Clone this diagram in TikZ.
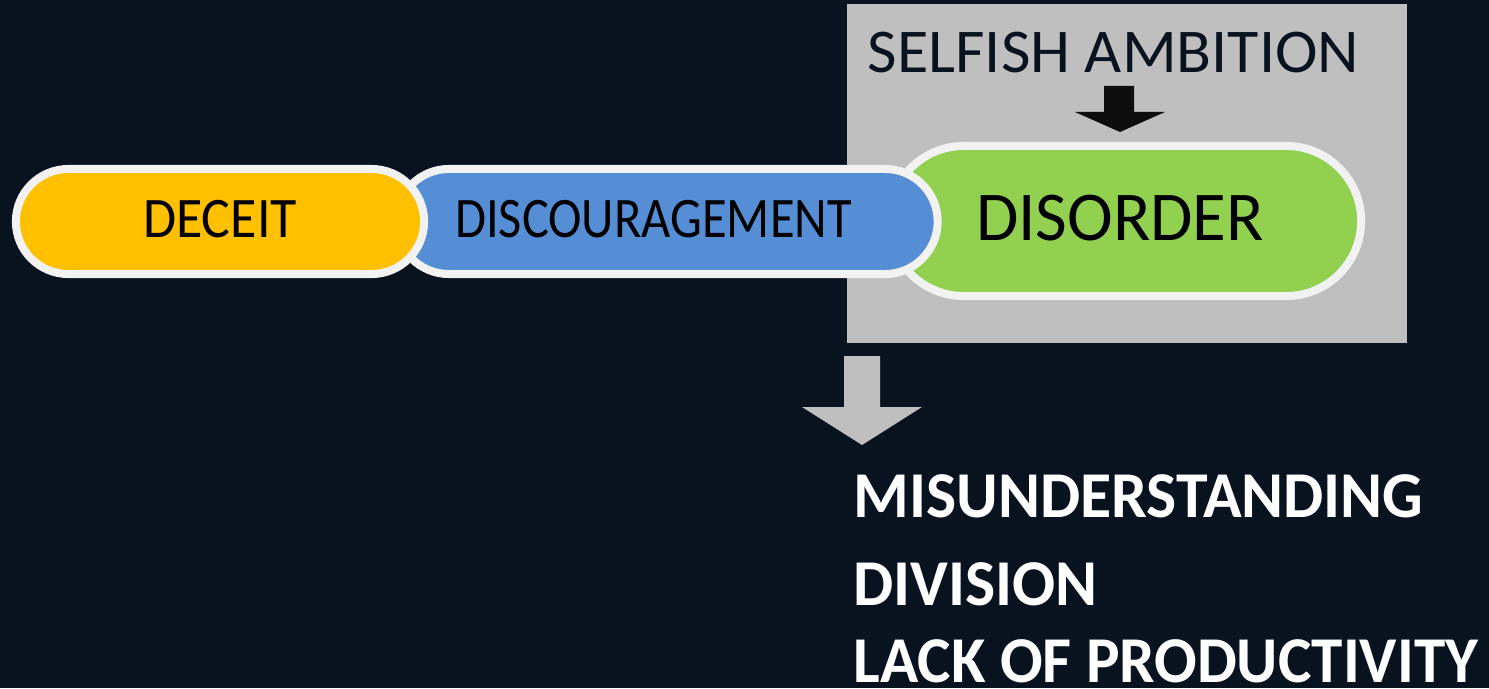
\documentclass[tikz,border=0pt]{standalone}
\usepackage{graphicx}
\usepackage{fontspec}
\setmainfont{Carlito}
\usetikzlibrary{shapes.misc}

\definecolor{bgnavy}{HTML}{09121F}
\definecolor{boxgray}{HTML}{BFBFBF}
\definecolor{rimwhite}{HTML}{F2F2F2}
\definecolor{pillyellow}{HTML}{FFC000}
\definecolor{pillblue}{HTML}{558ED5}
\definecolor{pillgreen}{HTML}{92D050}
\definecolor{arrowblack}{HTML}{0D0D0D}

\newcommand{\narrow}[2]{\scalebox{#1}[1]{#2}}

\tikzset{
    pill/.style={rounded rectangle, draw=rimwhite, line width=0.08cm, inner sep=0pt},
    pilltext/.style={anchor=base, text=black, inner sep=0pt, font=\fontsize{16.3}{18}\selectfont},
    outcome/.style={anchor=base west, text=white, inner sep=0pt, font=\bfseries\fontsize{18.6}{20}\selectfont}
}

\begin{document}
\begin{tikzpicture}[x=0.01cm, y=-0.01cm]
        \fill [bgnavy] (0, 0) rectangle (1489, 688);
        \useasboundingbox (0, 0) rectangle (1489, 688);
        \fill [boxgray] (847, 4) rectangle (1407, 343);

        % pills, back to front
        \node [pill, fill=pillgreen, minimum width=4.72cm, minimum height=1.5cm] (green) at (1125, 221) {};
        \node [pill, fill=pillblue, minimum width=5.41cm, minimum height=1.05cm] (blue) at (667, 221.5) {};
        \node [pill, fill=pillyellow, minimum width=4.08cm, minimum height=1.05cm] (yellow) at (220, 221.5) {};

        \node [pilltext] (deceit) at (220, 237) {\narrow{0.94}{DECEIT}};
        \node [pilltext] (discour) at (653.5, 237) {\narrow{0.88}{DISCOURAGEMENT}};
        \node [pilltext, font=\fontsize{19.9}{22}\selectfont] (disorder) at (1120, 240) {\narrow{0.985}{DISORDER}};

        \node [anchor=base, text=bgnavy, inner sep=0pt, font=\fontsize{17.7}{20}\selectfont] (selfish) at (1113.5, 73) {\narrow{1.03}{SELFISH AMBITION}};

        % block arrows
        \fill [arrowblack] (1104, 86) -- (1134, 86) -- (1134, 112) -- (1165, 112) -- (1120, 132) -- (1075, 112) -- (1104, 112) -- cycle;
        \fill [boxgray] (844, 356) -- (880, 356) -- (880, 407) -- (922, 407) -- (862, 445) -- (802, 407) -- (844, 407) -- cycle;

        \node [outcome] (misund) at (853, 517) {\narrow{0.975}{MISUNDERSTANDING}};
        \node [outcome] (division) at (853, 605) {\narrow{0.975}{DIVISION}};
        \node [outcome] (lack) at (853, 682) {\narrow{0.965}{LACK OF PRODUCTIVITY}};
    \end{tikzpicture}
\end{document}
